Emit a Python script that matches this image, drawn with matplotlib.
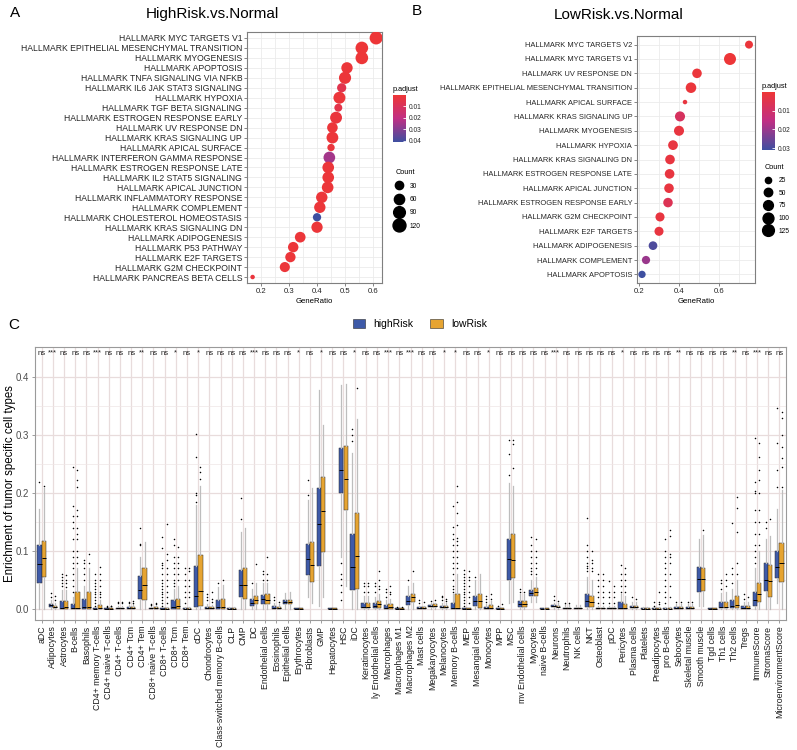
import matplotlib
matplotlib.use('Agg')
import matplotlib.pyplot as plt
import numpy as np
from matplotlib.colors import LinearSegmentedColormap
from matplotlib.lines import Line2D
from matplotlib.patches import Patch

plt.rcParams['font.family'] = ['Liberation Sans', 'DejaVu Sans']

# ---------------- panel A data ----------------
a_terms = ['HALLMARK MYC TARGETS V1', 'HALLMARK EPITHELIAL MESENCHYMAL TRANSITION', 'HALLMARK MYOGENESIS',
           'HALLMARK APOPTOSIS', 'HALLMARK TNFA SIGNALING VIA NFKB', 'HALLMARK IL6 JAK STAT3 SIGNALING',
           'HALLMARK HYPOXIA', 'HALLMARK TGF BETA SIGNALING', 'HALLMARK ESTROGEN RESPONSE EARLY',
           'HALLMARK UV RESPONSE DN', 'HALLMARK KRAS SIGNALING UP', 'HALLMARK APICAL SURFACE',
           'HALLMARK INTERFERON GAMMA RESPONSE', 'HALLMARK ESTROGEN RESPONSE LATE', 'HALLMARK IL2 STAT5 SIGNALING',
           'HALLMARK APICAL JUNCTION', 'HALLMARK INFLAMMATORY RESPONSE', 'HALLMARK COMPLEMENT',
           'HALLMARK CHOLESTEROL HOMEOSTASIS', 'HALLMARK KRAS SIGNALING DN', 'HALLMARK ADIPOGENESIS',
           'HALLMARK P53 PATHWAY', 'HALLMARK E2F TARGETS', 'HALLMARK G2M CHECKPOINT', 'HALLMARK PANCREAS BETA CELLS']
a_ratio = [0.611, 0.56, 0.56, 0.507, 0.50, 0.488, 0.48, 0.476, 0.468, 0.455, 0.455, 0.45, 0.444,
           0.44, 0.44, 0.438, 0.417, 0.41, 0.40, 0.40, 0.34, 0.315, 0.305, 0.285, 0.17]
a_padj = [0.0005, 0.0005, 0.0005, 0.001, 0.001, 0.006, 0.001, 0.005, 0.002, 0.001, 0.001, 0.002, 0.025,
          0.001, 0.001, 0.001, 0.001, 0.001, 0.041, 0.001, 0.001, 0.001, 0.001, 0.001, 0.002]
a_count = [122, 112, 112, 82, 100, 42, 96, 26, 94, 66, 91, 20, 89, 88, 88, 88, 83, 82, 30, 80, 68, 63, 61, 57, 7]
a_legend_counts = [30, 60, 90, 120]
a_cbar_ticks = [0.01, 0.02, 0.03, 0.04]

# ---------------- panel B data ----------------
b_terms = ['HALLMARK MYC TARGETS V2', 'HALLMARK MYC TARGETS V1', 'HALLMARK UV RESPONSE DN',
           'HALLMARK EPITHELIAL MESENCHYMAL TRANSITION', 'HALLMARK APICAL SURFACE', 'HALLMARK KRAS SIGNALING UP',
           'HALLMARK MYOGENESIS', 'HALLMARK HYPOXIA', 'HALLMARK KRAS SIGNALING DN', 'HALLMARK ESTROGEN RESPONSE LATE',
           'HALLMARK APICAL JUNCTION', 'HALLMARK ESTROGEN RESPONSE EARLY', 'HALLMARK G2M CHECKPOINT',
           'HALLMARK E2F TARGETS', 'HALLMARK ADIPOGENESIS', 'HALLMARK COMPLEMENT', 'HALLMARK APOPTOSIS']
b_ratio = [0.75, 0.655, 0.49, 0.46, 0.43, 0.405, 0.40, 0.37, 0.355, 0.353, 0.35, 0.345, 0.305, 0.30, 0.27, 0.235, 0.215]
b_padj = [0.001, 0.0005, 0.001, 0.001, 0.002, 0.008, 0.002, 0.002, 0.002, 0.002, 0.002, 0.006, 0.002, 0.002,
          0.029, 0.02, 0.031]
b_count = [43, 131, 70, 92, 19, 81, 80, 74, 71, 71, 70, 69, 61, 60, 54, 47, 35]
b_legend_counts = [25, 50, 75, 100, 125]
b_cbar_ticks = [0.01, 0.02, 0.03]

# ---------------- panel C data ----------------
cell_types = ['aDC', 'Adipocytes', 'Astrocytes', 'B-cells', 'Basophils', 'CD4+ memory T-cells', 'CD4+ naive T-cells',
              'CD4+ T-cells', 'CD4+ Tcm', 'CD4+ Tem', 'CD8+ naive T-cells', 'CD8+ T-cells', 'CD8+ Tcm', 'CD8+ Tem',
              'cDC', 'Chondrocytes', 'Class-switched memory B-cells', 'CLP', 'CMP', 'DC', 'Endothelial cells',
              'Eosinophils', 'Epithelial cells', 'Erythrocytes', 'Fibroblasts', 'GMP', 'Hepatocytes', 'HSC', 'iDC',
              'Keratinocytes', 'ly Endothelial cells', 'Macrophages', 'Macrophages M1', 'Macrophages M2',
              'Mast cells', 'Megakaryocytes', 'Melanocytes', 'Memory B-cells', 'MEP', 'Mesangial cells',
              'Monocytes', 'MPP', 'MSC', 'mv Endothelial cells', 'Myocytes', 'naive B-cells', 'Neurons',
              'Neutrophils', 'NK cells', 'NKT', 'Osteoblast', 'pDC', 'Pericytes', 'Plasma cells', 'Platelets',
              'Preadipocytes', 'pro B-cells', 'Sebocytes', 'Skeletal muscle', 'Smooth muscle', 'Tgd cells',
              'Th1 cells', 'Th2 cells', 'Tregs', 'ImmuneScore', 'StromaScore', 'MicroenvironmentScore']
signif = ['ns', '***', 'ns', 'ns', 'ns', '***', 'ns', 'ns', 'ns', '**', 'ns', 'ns', '*', 'ns', '*', 'ns', 'ns',
          'ns', 'ns', '***', 'ns', 'ns', 'ns', '*', 'ns', '*', 'ns', 'ns', '*', 'ns', 'ns', '***', 'ns', '***',
          'ns', 'ns', '*', '*', 'ns', 'ns', '*', 'ns', 'ns', 'ns', 'ns', 'ns', '***', 'ns', 'ns', 'ns', 'ns',
          'ns', '*', 'ns', 'ns', 'ns', 'ns', '**', 'ns', 'ns', 'ns', 'ns', '**', 'ns', '***', 'ns', 'ns']

hi_q1 = [0.045, 0.004, 0, 0, 0, 0, 0, 0, 0, 0.017, 0, 0, 0, 0, 0.004, 0, 0, 0, 0.02, 0.005, 0.009, 0, 0.008, 0,
         0.058, 0.074, 0, 0.2, 0.032, 0.001, 0.002, 0, 0, 0.007, 0, 0.003, 0.002, 0, 0, 0.006, 0, 0, 0.05, 0.004,
         0.022, 0, 0.003, 0, 0, 0.004, 0, 0, 0, 0.001, 0, 0, 0, 0, 0, 0.029, 0, 0.001, 0.001, 0, 0.005, 0.031, 0.053]
hi_med = [0.078, 0.007, 0.002, 0.001, 0.003, 0, 0, 0.001, 0.001, 0.033, 0.001, 0, 0.004, 0, 0.022, 0.001, 0.004,
          0, 0.042, 0.01, 0.017, 0.002, 0.012, 0, 0.086, 0.147, 0, 0.24, 0.073, 0.004, 0.006, 0.002, 0, 0.014,
          0.001, 0.005, 0.004, 0.001, 0, 0.014, 0.001, 0, 0.086, 0.008, 0.028, 0, 0.005, 0.001, 0.001, 0.014,
          0.001, 0.001, 0.002, 0.003, 0, 0, 0, 0.001, 0.001, 0.051, 0, 0.004, 0.005, 0.002, 0.016, 0.05, 0.073]
hi_q3 = [0.11, 0.009, 0.013, 0.008, 0.017, 0.001, 0.001, 0.002, 0.003, 0.057, 0.002, 0.001, 0.015, 0.001, 0.074,
         0.003, 0.015, 0.001, 0.067, 0.018, 0.024, 0.005, 0.016, 0.001, 0.112, 0.208, 0.001, 0.277, 0.129, 0.01,
         0.01, 0.007, 0.001, 0.022, 0.003, 0.007, 0.006, 0.01, 0.001, 0.022, 0.004, 0.001, 0.12, 0.013, 0.033,
         0.001, 0.007, 0.002, 0.002, 0.025, 0.002, 0.002, 0.012, 0.006, 0.001, 0.001, 0.001, 0.003, 0.003, 0.072,
         0.001, 0.012, 0.015, 0.005, 0.03, 0.079, 0.1]
hi_low = [0, 0, 0, 0, 0, 0, 0, 0, 0, 0, 0, 0, 0, 0, 0, 0, 0, 0, 0, 0, 0, 0, 0, 0, 0.02, 0.005, 0, 0.09, 0, 0, 0,
          0, 0, 0, 0, 0, 0, 0, 0, 0, 0, 0, 0.01, 0, 0.012, 0, 0, 0, 0, 0, 0, 0, 0, 0, 0, 0, 0, 0, 0, 0.005, 0, 0,
          0, 0, 0, 0, 0.01]
hi_top = [0.172, 0.015, 0.032, 0.02, 0.04, 0.002, 0.002, 0.006, 0.007, 0.09, 0.005, 0.002, 0.035, 0.003, 0.18,
          0.008, 0.038, 0.003, 0.133, 0.035, 0.045, 0.01, 0.028, 0.002, 0.188, 0.378, 0.002, 0.386, 0.269, 0.022,
          0.02, 0.015, 0.002, 0.04, 0.006, 0.01, 0.01, 0.025, 0.002, 0.05, 0.008, 0.002, 0.218, 0.025, 0.05, 0.002,
          0.01, 0.008, 0.007, 0.055, 0.005, 0.005, 0.025, 0.012, 0.004, 0.003, 0.003, 0.008, 0.008, 0.12, 0.002,
          0.028, 0.035, 0.012, 0.07, 0.12, 0.172]
hi_out = [[0.219], [0.02, 0.028], [0.04, 0.045, 0.05, 0.055, 0.06],
          [0.245, 0.177, 0.16, 0.15, 0.14, 0.12, 0.1, 0.09, 0.08, 0.07, 0.06, 0.05, 0.04, 0.03],
          [0.085, 0.08, 0.07, 0.06, 0.05],
          [0.06, 0.05, 0.045, 0.04, 0.035, 0.03, 0.025, 0.02, 0.015, 0.01, 0.006],
          [0.004, 0.006], [0.01, 0.012], [0.01, 0.012], [0.11, 0.112, 0.139], [0.007, 0.009],
          [0.124, 0.105, 0.08, 0.076, 0.07, 0.06, 0.05, 0.045, 0.04, 0.035, 0.03, 0.025, 0.02, 0.015, 0.01, 0.005],
          [0.12, 0.11, 0.09, 0.08, 0.07, 0.06, 0.05, 0.045, 0.04],
          [0.07, 0.06, 0.05, 0.04, 0.03, 0.02, 0.01],
          [0.302, 0.263, 0.2, 0.197, 0.185], [0.015, 0.02, 0.025], [0.045], [], [0.155, 0.192], [0.045],
          [0.05, 0.06, 0.065], [0.015, 0.02], [], [], [0.197, 0.222], [], [],
          [0.08, 0.06, 0.052, 0.042, 0.03, 0.016], [0.29, 0.30, 0.31], [0.03, 0.04, 0.045], [0.03, 0.04, 0.045],
          [0.02, 0.03, 0.035], [0.003], [0.05], [0.01, 0.015], [0.013], [0.015, 0.02, 0.022],
          [0.178, 0.142, 0.13, 0.12, 0.11, 0.1, 0.09, 0.08, 0.07, 0.06, 0.05, 0.04, 0.035, 0.03],
          [0.068, 0.06, 0.055, 0.05, 0.045, 0.04, 0.035, 0.03, 0.025, 0.02, 0.015, 0.01, 0.005],
          [0.055], [0.012, 0.018, 0.022], [0.006], [0.231, 0.267, 0.291], [0.03, 0.035],
          [0.06, 0.066, 0.07, 0.08, 0.09, 0.1, 0.11, 0.125], [], [0.015, 0.022], [0.01], [],
          [0.065, 0.07, 0.075, 0.08, 0.09, 0.1, 0.11, 0.157], [0.01, 0.02, 0.03, 0.04, 0.05, 0.06],
          [0.01, 0.02, 0.03, 0.048], [0.03, 0.04, 0.05, 0.06, 0.076], [0.02], [], [0.006, 0.012],
          [0.12, 0.1, 0.09, 0.08, 0.07, 0.06, 0.05, 0.04, 0.03, 0.02, 0.01], [0.012], [0.012], [], [],
          [0.035, 0.045, 0.05], [0.045, 0.06, 0.07, 0.148], [0.018, 0.025],
          [0.08, 0.09, 0.1, 0.11, 0.13, 0.15, 0.17, 0.2, 0.203, 0.219, 0.295], [0.14, 0.15],
          [0.21, 0.24, 0.287, 0.346]]

lo_q1 = [0.055, 0.002, 0, 0, 0, 0, 0, 0, 0, 0.016, 0, 0, 0, 0, 0.005, 0, 0, 0, 0.017, 0.008, 0.008, 0, 0.008, 0,
         0.047, 0.098, 0, 0.17, 0.034, 0.001, 0.002, 0, 0, 0.012, 0, 0.003, 0.002, 0, 0, 0.001, 0, 0, 0.053, 0.004,
         0.022, 0, 0.003, 0, 0, 0.004, 0, 0, 0, 0.001, 0, 0, 0, 0, 0, 0.031, 0, 0.001, 0.001, 0, 0.012, 0.021, 0.046]
lo_med = [0.088, 0.004, 0.003, 0.002, 0.004, 0.001, 0, 0.001, 0.001, 0.042, 0.001, 0, 0.006, 0, 0.031, 0.001,
          0.004, 0, 0.042, 0.015, 0.016, 0.002, 0.012, 0, 0.076, 0.169, 0, 0.225, 0.092, 0.004, 0.008, 0.003, 0,
          0.02, 0.001, 0.005, 0.004, 0.002, 0, 0.014, 0.002, 0, 0.085, 0.008, 0.029, 0, 0.004, 0.001, 0.001, 0.012,
          0.001, 0.001, 0.002, 0.003, 0, 0, 0, 0.001, 0.001, 0.052, 0, 0.004, 0.007, 0.002, 0.025, 0.048, 0.079]
lo_q3 = [0.117, 0.006, 0.013, 0.03, 0.03, 0.007, 0.001, 0.002, 0.003, 0.071, 0.003, 0.002, 0.018, 0.001, 0.093,
         0.003, 0.018, 0.001, 0.07, 0.023, 0.025, 0.004, 0.016, 0.001, 0.115, 0.228, 0.001, 0.282, 0.165, 0.01,
         0.014, 0.009, 0.001, 0.026, 0.003, 0.008, 0.006, 0.025, 0.001, 0.025, 0.007, 0.001, 0.129, 0.013, 0.036,
         0.001, 0.006, 0.002, 0.002, 0.022, 0.002, 0.002, 0.009, 0.006, 0.001, 0.001, 0.001, 0.003, 0.003, 0.071,
         0.001, 0.012, 0.022, 0.005, 0.044, 0.076, 0.114]
lo_low = [0, 0, 0, 0, 0, 0, 0, 0, 0, 0, 0, 0, 0, 0, 0, 0, 0, 0, 0, 0, 0, 0, 0, 0, 0.01, 0.02, 0, 0.04, 0, 0, 0,
          0, 0, 0, 0, 0, 0, 0, 0, 0, 0, 0, 0.012, 0, 0.012, 0, 0, 0, 0, 0, 0, 0, 0, 0, 0, 0, 0, 0, 0, 0.006, 0, 0,
          0, 0, 0, 0, 0]
lo_top = [0.208, 0.01, 0.032, 0.07, 0.07, 0.016, 0.002, 0.006, 0.008, 0.116, 0.006, 0.004, 0.04, 0.003, 0.213,
          0.007, 0.042, 0.003, 0.14, 0.045, 0.045, 0.009, 0.03, 0.002, 0.208, 0.317, 0.002, 0.389, 0.328, 0.022,
          0.026, 0.018, 0.002, 0.045, 0.006, 0.011, 0.01, 0.06, 0.002, 0.06, 0.014, 0.002, 0.212, 0.025, 0.055,
          0.002, 0.01, 0.008, 0.007, 0.05, 0.005, 0.005, 0.022, 0.012, 0.004, 0.003, 0.003, 0.008, 0.008, 0.128,
          0.002, 0.03, 0.05, 0.012, 0.1, 0.126, 0.205]
lo_out = [[0.212], [0.015, 0.022], [0.038, 0.045, 0.05, 0.058],
          [0.24, 0.222, 0.21, 0.17, 0.16, 0.14, 0.13, 0.12, 0.1, 0.09, 0.08],
          [0.095, 0.08], [0.073, 0.06, 0.05, 0.04, 0.03, 0.025, 0.02], [0.005, 0.006], [0.01, 0.012],
          [0.011, 0.014], [], [0.008, 0.01], [0.147, 0.095, 0.085, 0.07, 0.06, 0.05, 0.04, 0.03, 0.02, 0.01],
          [0.107, 0.09, 0.08, 0.07, 0.06, 0.05], [0.07, 0.065, 0.05, 0.04, 0.03, 0.02],
          [0.245, 0.237, 0.225], [0.012, 0.018, 0.03], [0.05], [], [], [0.078], [0.05, 0.06, 0.09], [0.012],
          [], [], [], [], [], [], [0.381], [0.03, 0.04, 0.045], [0.035, 0.04, 0.05, 0.066], [0.025, 0.03, 0.04],
          [0.003], [0.065], [0.012], [0.015], [0.014, 0.018],
          [0.213, 0.184, 0.165, 0.145, 0.123, 0.118, 0.11, 0.1, 0.09, 0.08, 0.07],
          [0.065, 0.055, 0.05, 0.04, 0.03, 0.02, 0.01], [], [0.018, 0.025], [0.008], [0.244, 0.285, 0.291],
          [0.03], [0.06, 0.07, 0.08, 0.09, 0.1, 0.12], [], [0.014], [0.01], [], [0.065, 0.07, 0.08, 0.085, 0.1],
          [0.01, 0.02, 0.03, 0.04, 0.05, 0.06], [0.01, 0.02, 0.03, 0.04], [0.03, 0.04, 0.05, 0.06, 0.07],
          [0.018], [], [0.008, 0.012, 0.03], [0.137, 0.126, 0.095, 0.09, 0.08, 0.06, 0.04, 0.02], [0.012],
          [0.012], [0.136], [], [0.04, 0.05, 0.06], [0.06, 0.08, 0.133, 0.175, 0.194], [0.02],
          [0.11, 0.13, 0.15, 0.17, 0.2, 0.222, 0.24, 0.262, 0.286], [0.155],
          [0.21, 0.245, 0.26, 0.28, 0.3, 0.33, 0.34]]

# ---------------- figure ----------------
W, H = 797, 750
fig = plt.figure(figsize=(W / 100, H / 100), dpi=100)


def rect(x0, y0, x1, y1):
    # pixel box (left, top, right, bottom) -> figure fraction
    return [x0 / W, 1 - y1 / H, (x1 - x0) / W, (y1 - y0) / H]


cmap = LinearSegmentedColormap.from_list('padj', ['#EE3636', '#C02F84', '#3E4FA0'])
grid_col = '#EBEBEB'
txt_col = '#262626'


def dotplot(box, cbox, terms, ratio, padj, count, vmax, xlim, xmaj, xmin_, dmin, dmax, fs, cticks,
            leg_counts, leg_anchor, leg_space):
    ax = fig.add_axes(rect(*box))
    n = len(terms)
    y = np.arange(n)[::-1]
    count = np.array(count, float)
    cmin, cmax = count.min(), count.max()
    diam = lambda c: dmin + (dmax - dmin) * np.sqrt((np.asarray(c, float) - cmin) / (cmax - cmin))
    sc = ax.scatter(ratio, y, s=(diam(count) * 0.72) ** 2, c=padj, cmap=cmap, vmin=0, vmax=vmax,
                    linewidths=0, zorder=3)
    ax.set_xlim(*xlim)
    ax.set_ylim(-0.6, n - 0.4)
    ax.set_yticks(y)
    ax.set_yticklabels(terms, fontsize=fs, color=txt_col)
    ax.set_xticks(xmaj)
    ax.set_xticks(xmin_, minor=True)
    ax.set_xticklabels(['%g' % v for v in xmaj], fontsize=5.6, color=txt_col)
    ax.set_xlabel('GeneRatio', fontsize=5.6, labelpad=2)
    ax.tick_params(axis='both', which='major', length=2, width=0.5, color='#555555', pad=1.5)
    ax.tick_params(axis='x', which='minor', length=0)
    ax.grid(True, which='both', color=grid_col, linewidth=0.6, zorder=0)
    ax.set_axisbelow(True)
    for sp in ax.spines.values():
        sp.set_color('#7F7F7F')
        sp.set_linewidth(0.8)

    cax = fig.add_axes(rect(*cbox))
    cb = fig.colorbar(sc, cax=cax, ticks=cticks)
    cb.outline.set_visible(False)
    cax.invert_yaxis()
    cax.tick_params(labelsize=4.8, color='white', length=2.5, width=0.6, direction='in', pad=2)
    for t in cax.get_yticklabels():
        t.set_color(txt_col)
    cax.set_title('p.adjust', fontsize=5.3, loc='left', pad=3)

    handles = [Line2D([], [], marker='o', linestyle='', color='black', markersize=diam(c) * 0.72)
               for c in leg_counts]
    fig.legend(handles, [str(c) for c in leg_counts], title='Count', loc='upper left',
               bbox_to_anchor=leg_anchor, frameon=False, fontsize=4.8, title_fontsize=5.3,
               labelspacing=leg_space, handletextpad=0.9, borderpad=0, alignment='left',
               handlelength=1.2)
    return ax


dotplot((247, 32, 382, 283), (393, 95, 406, 142), a_terms, a_ratio, a_padj, a_count, 0.041,
        (0.15, 0.632), [0.2, 0.3, 0.4, 0.5, 0.6], [0.25, 0.35, 0.45, 0.55], 4.5, 13.0, 6.2,
        a_cbar_ticks, a_legend_counts, (392 / W, 1 - 166 / H), 0.95)
dotplot((637, 36, 755, 283), (762, 92, 775, 150), b_terms, b_ratio, b_padj, b_count, 0.031,
        (0.19, 0.78), [0.2, 0.4, 0.6], [0.3, 0.5, 0.7], 4.5, 12.0, 5.4,
        b_cbar_ticks, b_legend_counts, (761 / W, 1 - 161 / H), 0.85)

fig.text(212 / W, 1 - 14 / H, 'HighRisk.vs.Normal', fontsize=11, ha='center', va='center')
fig.text(619 / W, 1 - 15 / H, 'LowRisk.vs.Normal', fontsize=11, ha='center', va='center')
fig.text(10 / W, 1 - 13 / H, 'A', fontsize=11, ha='left', va='center')
fig.text(412 / W, 1 - 11 / H, 'B', fontsize=11, ha='left', va='center')
fig.text(8 / W, 1 - 325 / H, 'C', fontsize=11, ha='left', va='center')

# ---------------- panel C ----------------
axc = fig.add_axes(rect(35, 347, 786, 620))
pos = np.arange(len(cell_types))
blue, orange = '#3E5AA8', '#E6A431'


def make_stats(q1, med, q3, low, top, out):
    return [dict(q1=a, med=b, q3=c, whislo=d, whishi=e, fliers=f)
            for a, b, c, d, e, f in zip(q1, med, q3, low, top, out)]


for stats, off, col in [(make_stats(hi_q1, hi_med, hi_q3, hi_low, hi_top, hi_out), -0.2, blue),
                        (make_stats(lo_q1, lo_med, lo_q3, lo_low, lo_top, lo_out), 0.2, orange)]:
    axc.bxp(stats, positions=pos + off, widths=0.38, patch_artist=True, showcaps=False,
            boxprops=dict(facecolor=col, edgecolor='#2A2A2A', linewidth=0.35),
            medianprops=dict(color='black', linewidth=0.7),
            whiskerprops=dict(color='#BDBDBD', linewidth=0.9),
            flierprops=dict(marker='o', markersize=1.1, markerfacecolor='black', markeredgecolor='none'),
            manage_ticks=False)

for i, s in enumerate(signif):
    axc.text(i, 0.441, s, ha='center', va='center', fontsize=5.5, color='#222222')

axc.set_xlim(-0.6, len(cell_types) - 0.4)
axc.set_ylim(-0.019, 0.452)
axc.set_xticks(pos)
axc.set_xticklabels(cell_types, rotation=90, fontsize=6.3, color='#1A1A1A')
axc.set_yticks([0.0, 0.1, 0.2, 0.3, 0.4])
axc.set_yticks([0.05, 0.15, 0.25, 0.35], minor=True)
axc.set_yticklabels(['0.0', '0.1', '0.2', '0.3', '0.4'], fontsize=7, color='#4D4D4D')
axc.set_ylabel('Enrichment of tumor specific cell types', fontsize=8.3)
axc.yaxis.set_label_coords(-19 / 751, 0.5)
axc.tick_params(axis='both', which='major', length=2.5, width=0.5, color='#777777', pad=1.5)
axc.tick_params(axis='y', which='minor', length=0)
axc.grid(True, which='major', color='#E8DCDC', linewidth=0.9)
axc.grid(True, which='minor', axis='y', color='#EFE6E6', linewidth=0.5)
axc.set_axisbelow(True)
for sp in axc.spines.values():
    sp.set_color('#9A9A9A')
    sp.set_linewidth(0.8)

leg_handles = [Patch(facecolor=blue, edgecolor='#2A2A2A', linewidth=0.4),
               Patch(facecolor=orange, edgecolor='#2A2A2A', linewidth=0.4)]
fig.legend(leg_handles, ['highRisk', 'lowRisk'], loc='center', bbox_to_anchor=(420 / W, 1 - 324 / H),
           ncol=2, frameon=False, fontsize=7.5, handlelength=1.2, handleheight=0.9, handletextpad=0.8,
           columnspacing=1.6)

fig.savefig('out.png', dpi=100)
